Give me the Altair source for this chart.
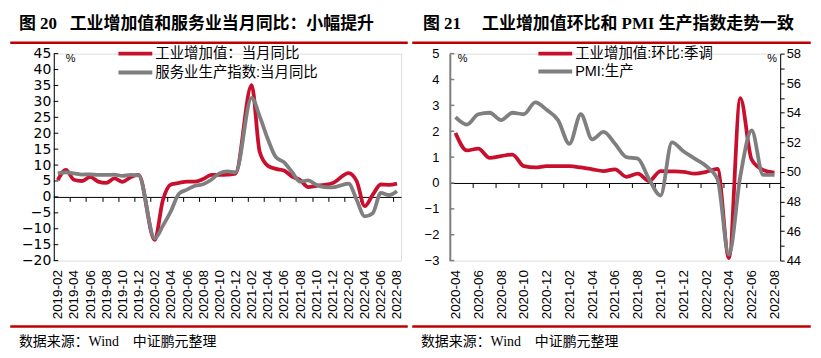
import altair as alt
import pandas as pd

# ---------------- data ----------------
left_months = [str(p) for p in pd.period_range("2019-02", "2022-08", freq="M")]
ind_yoy = [5.3, 8.5, 5.4, 5.0, 6.3, 4.8, 4.4, 5.8, 4.7, 6.2, 6.9,
           None, -13.5, -1.1, 3.9, 4.4, 4.8, 4.8, 5.6, 6.9, 6.9, 7.0, 7.3,
           None, 35.1, 14.1, 9.8, 8.8, 8.3, 6.4, 5.3, 3.1, 3.5, 3.8, 4.3,
           None, 7.5, 5.0, -2.9, 0.7, 3.9, 3.8, 4.2]
svc_yoy = [7.4, 7.7, 7.4, 7.0, 7.1, 6.9, 6.9, 7.0, 6.6, 6.9, 6.8,
           None, -13.0, -9.1, -4.5, 1.0, 2.3, 3.5, 4.0, 5.4, 7.4, 8.0, 7.7,
           None, 31.1, 25.3, 18.2, 12.5, 10.9, 7.8, 4.8, 5.2, 3.8, 3.1, 3.0,
           None, 4.2, -0.9, -6.1, -5.1, 1.3, 0.6, 1.8]

right_months = [str(p) for p in pd.period_range("2020-04", "2022-08", freq="M")]
ind_mom = [1.93, 1.26, 1.33, 0.97, 1.04, 1.1, 0.65, 0.6, 0.65, 0.65, 0.65, 0.6,
           0.53, 0.46, 0.53, 0.24, 0.36, 0.08, 0.46, 0.45, 0.43, 0.36, 0.43, 0.54,
           -2.9, 3.28, 0.9, 0.5, 0.4]
pmi_prod = [53.7, 53.2, 53.9, 54.0, 53.5, 54.0, 53.9, 54.7, 54.2, 53.5, 51.9, 53.9,
            52.2, 52.7, 51.9, 51.0, 50.9, 49.5, 48.4, 52.0, 51.4, 50.9, 50.4, 49.5,
            44.4, 49.7, 52.8, 49.8, 49.8]

left_title = "图 20\u00a0\u00a0\u00a0工业增加值和服务业当月同比：小幅提升"
right_title = "图 21\u00a0\u00a0\u00a0\u00a0\u00a0工业增加值环比和 PMI 生产指数走势一致"
source_text = "数据来源：Wind\u3000中证鹏元整理"
left_names = ["工业增加值：当月同比", "服务业生产指数:当月同比"]
right_names = ["工业增加值:环比:季调", "PMI:生产"]

# ---------------- styles ----------------
RED = "#C8102E"
GRAY = "#7F7F7F"
HDR = "#C00000"
SERIF = "'Liberation Serif', 'Noto Sans CJK SC'"
SANS = "'Liberation Sans', 'Noto Sans CJK SC'"
LW, LH = 349, 208
RW, RH = 332, 208
LINE_W = 3.8


def label_expr(months):
    return "[" + ",".join(f"'{m}'" for m in months) + "][datum.value]"


def one(**kw):
    return pd.DataFrame({k: [v] for k, v in kw.items()})


def hrule(x1, x2, y, color, width):
    return alt.Chart(one(a=0)).mark_rule(color=color, strokeWidth=width).encode(
        x=alt.value(x1), x2=alt.value(x2), y=alt.value(y))


def text(t, x, y, size, font, weight="normal", align="left"):
    return alt.Chart(one(t=t)).mark_text(
        align=align, baseline="middle", font=font, fontSize=size,
        fontWeight=weight, color="black").encode(
        x=alt.value(x), y=alt.value(y), text="t:N")


def panel(months, s1, s2, names, y1dom, y2dom, width, height, yfont, yfontsize,
          ylabpad, leg_x, leg_dy, title, title_x, src_x, rule_l, rule_r,
          y1_step, dual, y1_color, y1_domw):
    n = len(months)
    df = pd.DataFrame({"i": range(n), "a": s1, "b": s2})
    d1 = df.dropna(subset=["a"])
    d2 = df.dropna(subset=["b"])
    xs = alt.Scale(domain=[-0.5, n - 0.5], nice=False, zero=False)
    ys1 = alt.Scale(domain=y1dom, nice=False, zero=False)
    ys2 = alt.Scale(domain=y2dom, nice=False, zero=False) if dual else ys1
    y0px = height * (y1dom[1] - 0) / (y1dom[1] - y1dom[0])

    x_lab = alt.Axis(orient="bottom", values=list(range(0, n, 2)),
                     labelExpr=label_expr(months), labelAngle=270,
                     labelAlign="right", labelBaseline="middle", labelPadding=9,
                     labelFont="Liberation Sans", labelFontSize=13.5,
                     labelColor="black", domain=False, ticks=False, tickSize=0,
                     grid=False, title=None, labelOverlap=False)
    x_tick = alt.Axis(orient="bottom", offset=-(height - y0px),
                      values=[k + 1.5 for k in range(0, n - 2, 2)],
                      labels=False, ticks=True, tickSize=4.5, tickColor="black",
                      domain=True, domainColor="black", grid=False, title=None)
    y1_vals = list(range(y1dom[0], y1dom[1] + 1, y1_step))
    y1_axis = alt.Axis(orient="left", values=y1_vals, labelFont=yfont,
                       labelFontSize=yfontsize, labelPadding=ylabpad,
                       labelColor="black", ticks=False, tickSize=0, domain=True,
                       domainColor=y1_color, domainWidth=y1_domw, grid=False,
                       title=None)

    l1 = alt.Chart(d1).mark_line(color=RED, strokeWidth=LINE_W,
                                 interpolate="monotone").encode(
        x=alt.X("i:Q", scale=xs, axis=x_lab),
        y=alt.Y("a:Q", scale=ys1, axis=y1_axis))
    if dual:
        y2_axis = alt.Axis(orient="right",
                           values=list(range(y2dom[0], y2dom[1] + 1)),
                           labelExpr="datum.value % 2 == 0 ? datum.label : ''",
                           labelFont="Liberation Sans", labelFontSize=13,
                           labelColor="black", labelPadding=2, ticks=True,
                           tickSize=4, tickColor="black", domain=True,
                           domainColor="black", grid=False, title=None)
        tick_axis = None
    else:
        y2_axis = y1_axis
        tick_axis = y1_axis
    l2 = alt.Chart(d2).mark_line(color=GRAY, strokeWidth=LINE_W,
                                 interpolate="monotone").encode(
        x=alt.X("i:Q", scale=xs, axis=x_tick),
        y=alt.Y("b:Q", scale=ys2, axis=y2_axis))

    ticks_in = alt.Chart(pd.DataFrame({"v": y1_vals})).mark_rule(
        color=y1_color, strokeWidth=1.5 if dual else 1).encode(
        y=alt.Y("v:Q", scale=alt.Scale(domain=y1dom, nice=False, zero=False),
                axis=tick_axis),
        x=alt.value(0), x2=alt.value(4.5))

    layers = [
        hrule(rule_l, rule_r, -11, HDR, 2.5),
        hrule(rule_l, rule_r, height + 66.3, HDR, 2.5),
        l1, ticks_in, l2,
        hrule(leg_x, leg_x + 34, 0, RED, 4),
        hrule(leg_x, leg_x + 34, leg_dy, GRAY, 4),
        text(names[0], leg_x + 37, 0.5, 14.5, SANS),
        text(names[1], leg_x + 37, leg_dy + 0.5, 14.5, SANS),
        text(title, title_x, -30, 17, SERIF, "bold"),
        text(source_text, src_x, height + 82, 14, SERIF),
    ]
    if dual:
        layers.append(text("%", 8, 5, 11, "Liberation Sans"))
        layers.append(text("%", width - 13, 5, 11, "Liberation Sans"))
    else:
        layers.append(text("%", 12, 5, 11, "Liberation Sans"))

    ch = alt.layer(*layers).properties(width=width, height=height)
    if dual:
        ch = ch.resolve_scale(y="independent").resolve_axis(
            x="independent", y="independent")
    else:
        ch = ch.resolve_axis(x="independent")
    return ch


left = panel(left_months, ind_yoy, svc_yoy, left_names, [-20, 45], None,
             LW, LH, "DejaVu Sans", 14, 3, 65, 19, left_title, -35, -35,
             -43.75, 355.75, 5, False, "black", 1)
right = panel(right_months, ind_mom, pmi_prod, right_names, [-3, 5], [44, 58],
              RW, RH, "Liberation Sans", 13, 11, 89, 18, right_title, -27, -29,
              -37.75, 362.75, 1, True, GRAY, 2)

chart = alt.hconcat(left, right, spacing=0).properties(
    padding={"left": 0, "top": 5, "right": 0, "bottom": 0}
).configure_view(stroke=None).configure(background="white")

chart.save("out.html", embed_options={"renderer": "svg", "actions": False})
